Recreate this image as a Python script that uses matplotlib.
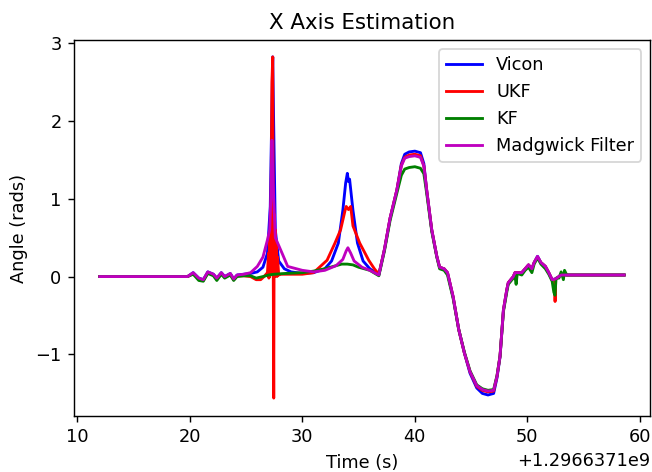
import numpy as np
import matplotlib
matplotlib.use("Agg")
import matplotlib.pyplot as plt

T0 = 1296637100.0

vicon_t = [12.0, 19.8, 20.3, 20.8, 21.2, 21.6, 22.1, 22.4, 22.8, 23.1, 23.6, 23.9, 24.2, 24.8, 25.4,
           26.0, 26.5, 26.9, 27.15, 27.3, 27.37, 27.45, 27.6, 27.9, 28.4, 29.0, 30.0, 31.0, 32.0, 32.6,
           33.2, 33.6, 33.85, 34.0, 34.1, 34.2, 34.5, 34.9, 35.4, 36.0, 36.8, 37.3, 37.8, 38.4, 38.8,
           39.1, 39.5, 40.0, 40.5, 40.8, 41.05, 41.5, 41.95, 42.2, 42.6, 42.9, 43.4, 43.9, 44.4, 44.9,
           45.5, 46.0, 46.5, 47.0, 47.3, 47.57, 47.87, 48.17, 48.3, 48.75, 48.9, 49.5, 49.8, 50.1, 50.4,
           50.6, 50.9, 51.2, 51.6, 51.9, 52.2, 52.5, 52.8, 53.0, 53.5, 58.6]
vicon_v = [0.0, 0.0, 0.05, -0.02, -0.04, 0.06, 0.03, -0.02, 0.05, 0.0, 0.04, -0.03, 0.02, 0.03, 0.04,
           0.06, 0.12, 0.3, 0.9, 2.2, 2.82, 2.0, 0.6, 0.2, 0.1, 0.06, 0.04, 0.05, 0.1, 0.2,
           0.43, 0.85, 1.2, 1.325, 1.22, 1.25, 0.85, 0.43, 0.2, 0.1, 0.02, 0.35, 0.75, 1.11, 1.45,
           1.57, 1.6, 1.61, 1.59, 1.45, 1.11, 0.6, 0.26, 0.12, 0.1, 0.05, -0.26, -0.68, -0.98, -1.24,
           -1.43, -1.5, -1.52, -1.5, -1.3, -1.03, -0.43, -0.17, -0.08, 0.0, 0.05, 0.05, 0.1, 0.15, 0.1,
           0.18, 0.26, 0.18, 0.13, 0.05, -0.04, -0.03, 0.0, 0.02, 0.02, 0.02]

ukf_t = [12.0, 19.8, 20.3, 20.8, 21.2, 21.6, 22.1, 22.4, 22.8, 23.1, 23.6, 23.9, 24.2, 24.8, 25.4,
         25.9, 26.3, 26.6, 26.9, 27.0, 27.03, 27.07, 27.1, 27.15, 27.2, 27.25, 27.3, 27.37, 27.42,
         27.46, 27.5, 27.55, 27.6, 27.65, 27.7, 27.75, 27.8, 27.9, 28.1, 29.0, 30.0, 31.0, 32.2, 32.9,
         33.4, 33.8, 33.9, 34.1, 34.3, 34.5, 35.1, 35.9, 36.4, 36.8, 37.3, 37.8, 38.4, 38.8,
         39.1, 39.5, 40.0, 40.5, 40.8, 41.05, 41.5, 41.95, 42.2, 42.6, 42.9, 43.4, 43.9, 44.4, 44.9,
         45.5, 46.0, 46.5, 47.0, 47.3, 47.57, 47.87, 48.17, 48.3, 48.75, 48.9, 49.5, 49.8, 50.1, 50.4,
         50.6, 50.9, 51.2, 51.6, 51.9, 52.2, 52.42, 52.46, 52.5, 52.8, 53.0, 53.5, 58.6]
ukf_v = [0.0, 0.0, 0.04, -0.03, -0.05, 0.05, 0.02, -0.03, 0.04, -0.01, 0.03, -0.04, 0.01, 0.01, 0.0,
         -0.04, -0.04, 0.0, 0.05, 0.3, -0.02, 0.45, 0.0, 0.6, 0.05, 1.5, 2.5, 2.82, -0.05,
         -1.56, 0.8, 0.0, 0.6, 0.02, 0.45, 0.0, 0.25, 0.02, 0.03, 0.03, 0.03, 0.05, 0.21, 0.43,
         0.6, 0.85, 0.9, 0.86, 0.9, 0.65, 0.43, 0.21, 0.1, 0.03, 0.35, 0.75, 1.11, 1.43,
         1.53, 1.56, 1.57, 1.55, 1.42, 1.11, 0.6, 0.26, 0.12, 0.1, 0.05, -0.26, -0.68, -0.98, -1.22,
         -1.41, -1.46, -1.48, -1.47, -1.28, -1.02, -0.43, -0.17, -0.08, 0.0, 0.05, 0.05, 0.1, 0.15, 0.1,
         0.18, 0.25, 0.18, 0.13, 0.05, -0.04, -0.04, -0.32, -0.03, 0.0, 0.02, 0.02, 0.02]

kf_t = [12.0, 19.8, 20.3, 20.8, 21.2, 21.6, 22.1, 22.4, 22.8, 23.1, 23.6, 23.9, 24.2, 24.8, 25.4,
        25.9, 26.5, 27.0, 27.5, 28.5, 30.0, 31.0, 32.0, 33.0, 33.5, 34.0, 34.5, 35.0, 36.0, 36.8,
        37.3, 37.8, 38.4, 38.8, 39.1, 39.5, 40.0, 40.5, 40.8, 41.05, 41.5, 41.95, 42.2, 42.6, 42.9,
        43.4, 43.9, 44.4, 44.9, 45.5, 46.0, 46.5, 47.0, 47.3, 47.57, 47.87, 48.17, 48.3, 48.75, 48.9,
        49.0, 49.1, 49.5, 49.8, 50.1, 50.4, 50.6, 50.9, 51.2, 51.6, 51.9, 52.2, 52.35, 52.45, 52.55,
        52.8, 53.0, 53.2, 53.3, 53.5, 58.6]
kf_v = [0.0, 0.0, 0.03, -0.05, -0.06, 0.04, 0.01, -0.05, 0.03, -0.02, 0.02, -0.05, 0.0, 0.01, 0.01,
        -0.02, 0.0, 0.02, 0.03, 0.04, 0.05, 0.07, 0.1, 0.14, 0.16, 0.16, 0.15, 0.12, 0.08, 0.01,
        0.33, 0.72, 1.07, 1.3, 1.38, 1.4, 1.41, 1.39, 1.32, 1.07, 0.58, 0.25, 0.1, 0.08, 0.02,
        -0.28, -0.68, -0.97, -1.21, -1.39, -1.44, -1.46, -1.45, -1.27, -1.02, -0.45, -0.2, -0.1, -0.02, 0.0,
        -0.1, 0.04, 0.02, 0.08, 0.12, 0.05, 0.16, 0.24, 0.16, 0.1, 0.03, -0.06, -0.2, -0.24, -0.02,
        -0.02, 0.06, -0.04, 0.08, 0.02, 0.02]

madg_t = [12.0, 19.8, 20.3, 20.8, 21.2, 21.6, 22.1, 22.4, 22.8, 23.1, 23.6, 23.9, 24.2, 24.8, 25.4,
          26.0, 26.5, 26.9, 27.1, 27.2, 27.3, 27.4, 27.6, 28.2, 28.7, 30.0, 31.0, 32.0, 33.0, 33.6,
          33.9, 34.05, 34.3, 34.6, 35.3, 36.0, 36.8, 37.3, 37.8, 38.4, 38.8,
          39.1, 39.5, 40.0, 40.5, 40.8, 41.05, 41.5, 41.95, 42.2, 42.6, 42.9, 43.4, 43.9, 44.4, 44.9,
          45.5, 46.0, 46.5, 47.0, 47.3, 47.57, 47.87, 48.17, 48.3, 48.75, 48.9, 49.5, 49.8, 50.1, 50.4,
          50.6, 50.9, 51.2, 51.6, 51.9, 52.2, 52.5, 52.8, 53.0, 53.5, 58.6]
madg_v = [0.0, 0.0, 0.05, -0.02, -0.04, 0.06, 0.03, -0.02, 0.05, 0.0, 0.04, -0.03, 0.02, 0.03, 0.05,
          0.13, 0.25, 0.47, 0.6, 1.0, 1.75, 1.2, 0.5, 0.3, 0.13, 0.08, 0.06, 0.08, 0.14, 0.22,
          0.33, 0.37, 0.3, 0.2, 0.12, 0.08, 0.02, 0.35, 0.75, 1.11, 1.42,
          1.52, 1.54, 1.55, 1.53, 1.42, 1.11, 0.6, 0.26, 0.12, 0.1, 0.05, -0.26, -0.68, -0.98, -1.22,
          -1.4, -1.45, -1.47, -1.46, -1.28, -1.02, -0.43, -0.17, -0.08, 0.0, 0.05, 0.05, 0.1, 0.15, 0.1,
          0.18, 0.26, 0.18, 0.13, 0.05, -0.04, -0.03, 0.0, 0.02, 0.02, 0.02]

DPI = 128
fig = plt.figure(figsize=(652 / DPI, 472 / DPI), dpi=DPI)
ax = fig.add_axes([0.1135, 0.1186, 0.8835, 0.7964])

lw = 1.6
ax.plot(T0 + np.array(vicon_t), vicon_v, color='b', lw=lw, label='Vicon')
ax.plot(T0 + np.array(ukf_t), ukf_v, color='r', lw=lw, label='UKF')
ax.plot(T0 + np.array(kf_t), kf_v, color='g', lw=lw, label='KF')
ax.plot(T0 + np.array(madg_t), madg_v, color='m', lw=lw, label='Madgwick Filter')

ax.set_xlim(T0 + 9.71, T0 + 60.9)
ax.set_ylim(-1.79, 3.035)
ax.set_xticks(T0 + np.arange(10, 61, 10))
ax.ticklabel_format(axis='x', useOffset=T0)
ax.set_title('X Axis Estimation')
ax.set_xlabel('Time (s)')
ax.set_ylabel('Angle (rads)')
ax.legend(loc='upper right')

fig.savefig('out.png', dpi=DPI)
